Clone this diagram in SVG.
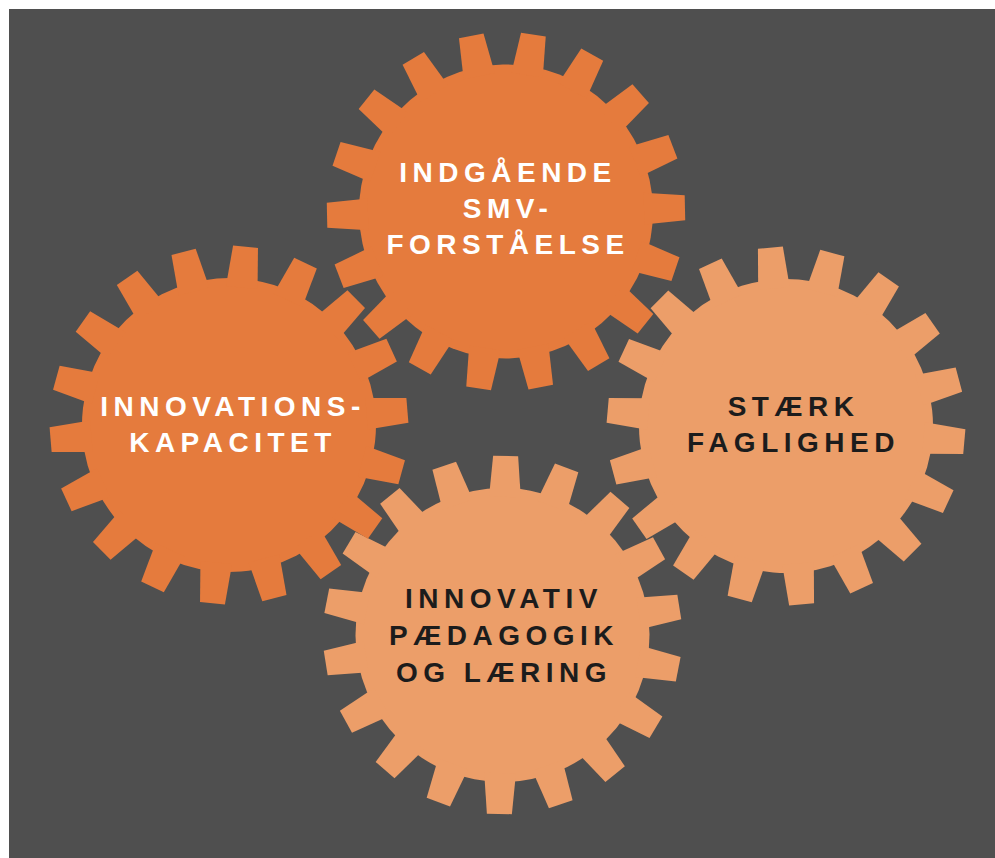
<svg xmlns="http://www.w3.org/2000/svg" xmlns:xlink="http://www.w3.org/1999/xlink" width="995" height="858" viewBox="0 0 995 858">
  <style>
    .dark { fill: #E57B3D; }
    .light { fill: #EC9E69; }
    .lbl { font-family: "Liberation Sans", Arial, Helvetica, sans-serif; font-weight: 700; font-size: 28px; letter-spacing: 5.5px; text-anchor: middle; }
    .lbl-w { fill: #FFFFFF; }
    .lbl-d { fill: #1C1C1C; }
  </style>
  <defs>
    <polygon id="tooth" points="138,-15.87 179,-12.5 179,12.5 138,15.87"/>
    <g id="gear">
      <circle r="147"/>
      <use href="#tooth"/>
      <use href="#tooth" transform="rotate(20)"/>
      <use href="#tooth" transform="rotate(40)"/>
      <use href="#tooth" transform="rotate(60)"/>
      <use href="#tooth" transform="rotate(80)"/>
      <use href="#tooth" transform="rotate(100)"/>
      <use href="#tooth" transform="rotate(120)"/>
      <use href="#tooth" transform="rotate(140)"/>
      <use href="#tooth" transform="rotate(160)"/>
      <use href="#tooth" transform="rotate(180)"/>
      <use href="#tooth" transform="rotate(200)"/>
      <use href="#tooth" transform="rotate(220)"/>
      <use href="#tooth" transform="rotate(240)"/>
      <use href="#tooth" transform="rotate(260)"/>
      <use href="#tooth" transform="rotate(280)"/>
      <use href="#tooth" transform="rotate(300)"/>
      <use href="#tooth" transform="rotate(320)"/>
      <use href="#tooth" transform="rotate(340)"/>
    </g>
  </defs>

  <rect x="0" y="0" width="995" height="858" fill="#FFFFFF"/>
  <rect x="9" y="9" width="986" height="849" fill="#4F4F4F"/>

  <g id="gear-staerk-faglighed">
    <use href="#gear" class="light" transform="translate(786 426) rotate(5)"/>
    <text class="lbl lbl-d" x="793.5" y="415.5">STÆRK</text>
    <text class="lbl lbl-d" x="793.5" y="451.5">FAGLIGHED</text>
  </g>

  <g id="gear-innovativ-paedagogik">
    <use href="#gear" class="light" transform="translate(502.5 635) rotate(11)"/>
    <text class="lbl lbl-d" x="504" y="608">INNOVATIV</text>
    <text class="lbl lbl-d" x="504" y="644.5">PÆDAGOGIK</text>
    <text class="lbl lbl-d" x="504" y="681.5">OG LÆRING</text>
  </g>

  <g id="gear-innovationskapacitet">
    <use href="#gear" class="dark" transform="translate(229 425) rotate(-4.7)"/>
    <text class="lbl lbl-w" x="233" y="415.5">INNOVATIONS-</text>
    <text class="lbl lbl-w" x="233" y="451.5">KAPACITET</text>
  </g>

  <g id="gear-indgaaende-smv">
    <use href="#gear" class="dark" transform="translate(506 211.5) rotate(-1.2)"/>
    <text class="lbl lbl-w" x="508" y="182.3">INDGÅENDE</text>
    <text class="lbl lbl-w" x="508" y="218.3">SMV-</text>
    <text class="lbl lbl-w" x="508" y="254.3">FORSTÅELSE</text>
  </g>
</svg>
